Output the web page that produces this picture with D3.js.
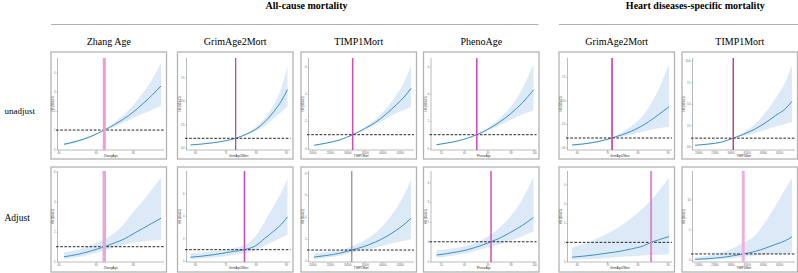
<!DOCTYPE html>
<html><head><meta charset="utf-8">
<script src="https://cdn.jsdelivr.net/npm/d3@7"></script>
<style>body{margin:0;background:#fff}svg{display:block}</style>
</head><body><svg id="c" width="798" height="273"></svg>
<script>
// ---------------- DATA ----------------
const groupTitles = ["All-cause mortality", "Heart diseases-specific mortality"];
const columnTitles = ["Zhang Age", "GrimAge2Mort", "TIMP1Mort", "PhenoAge", "GrimAge2Mort", "TIMP1Mort"];
const rowLabels = ["unadjust", "Adjust"];
const xAxisLabels = ["ZhangAge", "GrimAge2Mort", "TIMP1Mort", "PhenoAge", "GrimAge2Mort", "TIMP1Mort"];
const yAxisLabel = "HR (95%CI)";
const xTickValues = [
  [40, 60, 80],
  [60, 70, 80, 90],
  [20000, 25000, 30000, 35000, 40000, 45000],
  [20, 40, 60, 80, 100],
  [60, 70, 80, 90],
  [20000, 25000, 30000, 35000, 40000, 45000]
];
// x grid of each panel (row 0 = unadjust, row 1 = Adjust)
const xsUnadj = [
  [43, 50, 57, 64.6, 70, 75, 80, 85, 90, 95],
  [58.5, 62, 66, 70, 73.4, 77, 80, 83, 86, 88.5, 90.5],
  [20500, 24000, 28000, 31543, 35000, 38000, 41000, 44000, 46500, 48200],
  [16.4, 25, 35, 43, 50.9, 60, 70, 80, 90, 99.5],
  [58.45, 62, 66, 71.65, 75, 78, 81, 84, 87, 90.4],
  [19000, 23000, 27000, 30836, 34000, 37500, 41000, 44000, 47000, 49010]
];
const xsAdj = [
  [43, 50, 57, 64.6, 70, 75, 80, 85, 90, 95],
  [58.5, 62, 66, 70, 73, 76.3, 80, 83, 86, 88.5, 90.5],
  [20500, 24000, 28000, 31300, 35000, 38000, 41000, 44000, 46500, 48200],
  [16.4, 25, 35, 43, 50, 57, 63.1, 70, 80, 90, 99.5],
  [58.45, 62, 66, 70, 74, 78, 82, 84.5, 87, 90.4],
  [19000, 23000, 27000, 30836, 33932, 37500, 41000, 44000, 47000, 49010]
];
// hazard ratio estimates and 95% CI
const estUnadj = [
  [0.26, 0.42, 0.65, 1.0, 1.28, 1.58, 1.93, 2.35, 2.8, 3.3],
  [0.29, 0.38, 0.52, 0.73, 1.0, 1.45, 1.95, 2.75, 3.85, 5.0, 6.2],
  [0.22, 0.38, 0.63, 1.0, 1.45, 1.9, 2.5, 3.2, 3.85, 4.41],
  [0.26, 0.38, 0.55, 0.75, 1.0, 1.38, 1.9, 2.55, 3.35, 4.29],
  [0.25, 0.36, 0.55, 1.0, 1.35, 1.72, 2.2, 2.8, 3.5, 4.33],
  [0.16, 0.3, 0.52, 1.0, 1.45, 2.05, 2.85, 3.65, 4.45, 5.3]
];
const loUnadj = [
  [0.21, 0.37, 0.6, 0.97, 1.17, 1.4, 1.62, 1.85, 2.05, 2.25],
  [0.25, 0.34, 0.48, 0.7, 0.98, 1.36, 1.75, 2.35, 3.15, 3.8, 4.4],
  [0.18, 0.34, 0.59, 0.97, 1.35, 1.72, 2.15, 2.6, 2.85, 3.06],
  [0.22, 0.34, 0.51, 0.72, 0.97, 1.28, 1.68, 2.1, 2.5, 2.8],
  [0.19, 0.29, 0.48, 0.95, 1.15, 1.35, 1.6, 1.85, 2.05, 2.2],
  [0.12, 0.25, 0.46, 0.96, 1.25, 1.6, 2.0, 2.35, 2.65, 2.9]
];
const hiUnadj = [
  [0.31, 0.48, 0.7, 1.03, 1.4, 1.8, 2.3, 2.9, 3.6, 4.5],
  [0.33, 0.42, 0.56, 0.76, 1.02, 1.55, 2.2, 3.15, 4.6, 6.4, 8.7],
  [0.26, 0.42, 0.67, 1.03, 1.55, 2.1, 2.9, 3.9, 5.0, 6.1],
  [0.3, 0.42, 0.59, 0.78, 1.03, 1.48, 2.15, 3.05, 4.4, 6.2],
  [0.32, 0.44, 0.62, 1.05, 1.6, 2.25, 3.1, 4.4, 6.2, 8.9],
  [0.2, 0.36, 0.58, 1.04, 1.7, 2.6, 4.1, 5.7, 7.6, 9.5]
];
const estAdj = [
  [0.33, 0.48, 0.7, 1.0, 1.25, 1.5, 1.85, 2.2, 2.55, 2.9],
  [0.33, 0.42, 0.55, 0.72, 0.86, 1.0, 1.35, 2.0, 2.65, 3.25, 3.9],
  [0.36, 0.5, 0.72, 1.0, 1.35, 1.72, 2.2, 2.8, 3.4, 3.9],
  [0.33, 0.4, 0.5, 0.6, 0.72, 0.86, 1.0, 1.17, 1.48, 1.83, 2.23],
  [0.23, 0.28, 0.35, 0.44, 0.53, 0.66, 0.82, 1.0, 1.13, 1.3],
  [0.1, 0.22, 0.4, 0.7, 1.0, 1.4, 2.0, 2.6, 3.2, 3.85]
];
const loAdj = [
  [0.18, 0.3, 0.48, 0.75, 0.95, 1.1, 1.28, 1.35, 1.42, 1.45],
  [0.18, 0.23, 0.3, 0.42, 0.55, 0.68, 0.95, 1.35, 1.75, 2.05, 2.3],
  [0.18, 0.3, 0.5, 0.75, 0.98, 1.2, 1.45, 1.7, 1.85, 2.0],
  [0.2, 0.26, 0.35, 0.44, 0.55, 0.66, 0.76, 0.86, 1.05, 1.28, 1.53],
  [0.09, 0.12, 0.15, 0.19, 0.24, 0.28, 0.32, 0.34, 0.36, 0.38],
  [0.0, 0.05, 0.15, 0.3, 0.5, 0.7, 0.9, 1.0, 1.05, 1.1]
];
const hiAdj = [
  [0.63, 0.8, 1.1, 1.5, 1.9, 2.5, 3.3, 4.0, 4.8, 5.6],
  [0.68, 0.75, 0.85, 1.0, 1.15, 1.4, 2.2, 3.5, 4.9, 6.1, 7.3],
  [0.7, 0.82, 1.0, 1.35, 1.9, 2.55, 3.5, 4.8, 6.2, 7.4],
  [0.56, 0.62, 0.7, 0.8, 0.95, 1.15, 1.38, 1.7, 2.3, 3.15, 4.28],
  [0.73, 0.9, 1.15, 1.45, 1.8, 2.25, 2.8, 3.2, 3.65, 4.35],
  [0.4, 0.7, 1.2, 2.0, 2.8, 4.0, 6.5, 9.0, 11.8, 13.5]
];
const refUnadj = [64.6, 73.4, 31543, 50.9, 71.65, 30836];
const refAdj = [64.6, 76.3, 31300, 63.1, 84.5, 33932];
const yDomainUnadj = [[-0.04, 4.76], [-0.25, 9.57], [-0.125, 6.64], [-0.125, 6.64], [-0.28, 9.53], [-0.385, 10.36]];
const yDomainAdj = [[-0.02, 6.05], [-0.09, 7.96], [-0.09, 8.2], [-0.02, 4.57], [-0.02, 4.7], [-0.33, 14.7]];
const yTicksUnadj = [[0, 1, 2, 3, 4], [0, 2.5, 5, 7.5], [0, 2, 4, 6], [0, 2, 4, 6], [0, 2.5, 5, 7.5], [0, 2.5, 5, 7.5, 10]];
const yTicksAdj = [[0, 2, 4, 6], [0, 2, 4, 6], [0, 2, 4, 6, 8], [0, 1, 2, 3, 4], [0, 1, 2, 3, 4], [0, 5, 10]];

// ---------------- STYLE / LAYOUT ----------------
const colLefts = [51, 177.5, 301, 423.5, 559, 682];
const panelW = 115.5;
const rowTops = [52, 167];
const rowHeights = [107, 105];
const axisOffsets = [6.5, 9, 7.5, 7.5, 8.5, 10.5];
const refStyleUnadj = [
  {c: "#e6a1d0", w: 3}, {c: "#c8449f", w: 1.3}, {c: "#d54bbd", w: 1.5},
  {c: "#d84cb8", w: 1.6}, {c: "#d34cb6", w: 1.8}, {c: "#b8409a", w: 1.5}
];
const refStyleAdj = [
  {c: "#e8a8d6", w: 3.5}, {c: "#d245b5", w: 1.5}, {c: "#7a6a88", w: 1},
  {c: "#d44fb8", w: 1.5}, {c: "#e08ccc", w: 2}, {c: "#efb0e0", w: 3}
];
const lineColor = "#3f8fc4";
const bandColor = "#dceaf7";

const svg = d3.select("#c");
const serif = "'Liberation Serif','Times New Roman',serif";

// group titles and rules
const groupCenters = [306.5, 695.3];
const groupRules = [[51, 538.5], [559, 798]];
groupTitles.forEach((t, i) => {
  svg.append("text").attr("x", groupCenters[i]).attr("y", 9)
    .attr("text-anchor", "middle").attr("font-family", serif)
    .attr("font-weight", "bold").attr("font-size", 10).attr("fill", "#000").text(t);
  svg.append("line").attr("x1", groupRules[i][0]).attr("x2", groupRules[i][1])
    .attr("y1", 24.5).attr("y2", 24.5).attr("stroke", "#b0b0b0").attr("stroke-width", 1);
});
// column titles
columnTitles.forEach((t, i) => {
  svg.append("text").attr("x", colLefts[i] + panelW / 2).attr("y", 45)
    .attr("text-anchor", "middle").attr("font-family", serif)
    .attr("font-size", 10).attr("fill", "#000").text(t);
});
// row labels
const rowLabelY = [114, 221];
const rowLabelSize = [9, 9.5];
rowLabels.forEach((t, i) => {
  svg.append("text").attr("x", 4.5).attr("y", rowLabelY[i])
    .attr("font-family", serif).attr("font-size", rowLabelSize[i]).attr("fill", "#000")
    .attr("stroke", "none").attr("opacity", 0.999).text(t);
});

function drawPanel(col, row) {
  const pl = colLefts[col], pt = rowTops[row], ph = rowHeights[row];
  const xs = (row === 0 ? xsUnadj : xsAdj)[col];
  const est = (row === 0 ? estUnadj : estAdj)[col];
  const lo = (row === 0 ? loUnadj : loAdj)[col];
  const hi = (row === 0 ? hiUnadj : hiAdj)[col];
  const ref = (row === 0 ? refUnadj : refAdj)[col];
  const yDom = (row === 0 ? yDomainUnadj : yDomainAdj)[col];
  const yTicks = (row === 0 ? yTicksUnadj : yTicksAdj)[col];
  const rs = (row === 0 ? refStyleUnadj : refStyleAdj)[col];
  const top = pt + (row === 0 ? 6 : 4);
  const bottom = pt + ph - (row === 0 ? 9 : 10);
  const axisX = pl + axisOffsets[col];
  const right = pl + 113;

  const x = d3.scaleLinear().domain([xs[0], xs[xs.length - 1]]).range([pl + 13, pl + 110]);
  const y = d3.scaleLinear().domain(yDom).range([bottom, top]);
  const g = svg.append("g");

  g.append("rect").attr("x", pl).attr("y", pt).attr("width", panelW).attr("height", ph)
    .attr("fill", "#fff").attr("stroke", "#b3b3b3").attr("stroke-width", 1.3);

  const pts = xs.map((v, i) => ({x: v, e: est[i], l: lo[i], h: hi[i]}));
  g.append("path").datum(pts)
    .attr("d", d3.area().x(d => x(d.x)).y0(d => y(d.l)).y1(d => y(d.h)).curve(d3.curveMonotoneX))
    .attr("fill", bandColor);
  g.append("path").datum(pts)
    .attr("d", d3.line().x(d => x(d.x)).y(d => y(d.e)).curve(d3.curveMonotoneX))
    .attr("fill", "none").attr("stroke", lineColor).attr("stroke-width", 1);

  // axes
  const fmtY = yTicks.some(v => v % 1 !== 0) ? d3.format(".1f") : d3.format("d");
  const ya = g.append("g").attr("transform", `translate(${axisX},0)`)
    .call(d3.axisLeft(y).tickValues(yTicks).tickSize(1.2).tickPadding(0.8).tickFormat(fmtY));
  const xa = g.append("g").attr("transform", `translate(0,${bottom})`)
    .call(d3.axisBottom(x).tickValues(xTickValues[col]).tickSize(1.2).tickPadding(0.6).tickFormat(d3.format("d")));
  [ya, xa].forEach(a => {
    a.select(".domain").remove();
    a.selectAll("line").attr("stroke", "#777").attr("stroke-width", 0.4);
    a.selectAll("text").attr("font-size", 2.6).attr("fill", "#666").attr("font-family", "Arial, sans-serif");
  });
  g.append("line").attr("x1", axisX).attr("x2", axisX).attr("y1", top).attr("y2", bottom)
    .attr("stroke", "#777").attr("stroke-width", 0.5);
  g.append("line").attr("x1", axisX).attr("x2", right).attr("y1", bottom).attr("y2", bottom)
    .attr("stroke", "#777").attr("stroke-width", 0.5);

  // reference lines
  g.append("line").attr("x1", axisX - 1.5).attr("x2", right).attr("y1", y(1)).attr("y2", y(1))
    .attr("stroke", "#222").attr("stroke-width", 1).attr("stroke-dasharray", "2.6,1.6");
  g.append("line").attr("x1", x(ref)).attr("x2", x(ref)).attr("y1", top).attr("y2", bottom)
    .attr("stroke", rs.c).attr("stroke-width", rs.w);

  // axis titles
  g.append("text").attr("x", (axisX + right) / 2).attr("y", bottom + 6.8)
    .attr("text-anchor", "middle").attr("font-size", 3).attr("fill", "#333")
    .attr("font-family", "Arial, sans-serif").text(xAxisLabels[col]);
  g.append("text").attr("transform", `translate(${pl + 3.2},${(top + bottom) / 2}) rotate(-90)`)
    .attr("text-anchor", "middle").attr("font-size", 2.8).attr("fill", "#333")
    .attr("font-family", "Arial, sans-serif").text(yAxisLabel);
}

for (let r = 0; r < 2; r++) for (let c = 0; c < 6; c++) drawPanel(c, r);
</script>
</body></html>
